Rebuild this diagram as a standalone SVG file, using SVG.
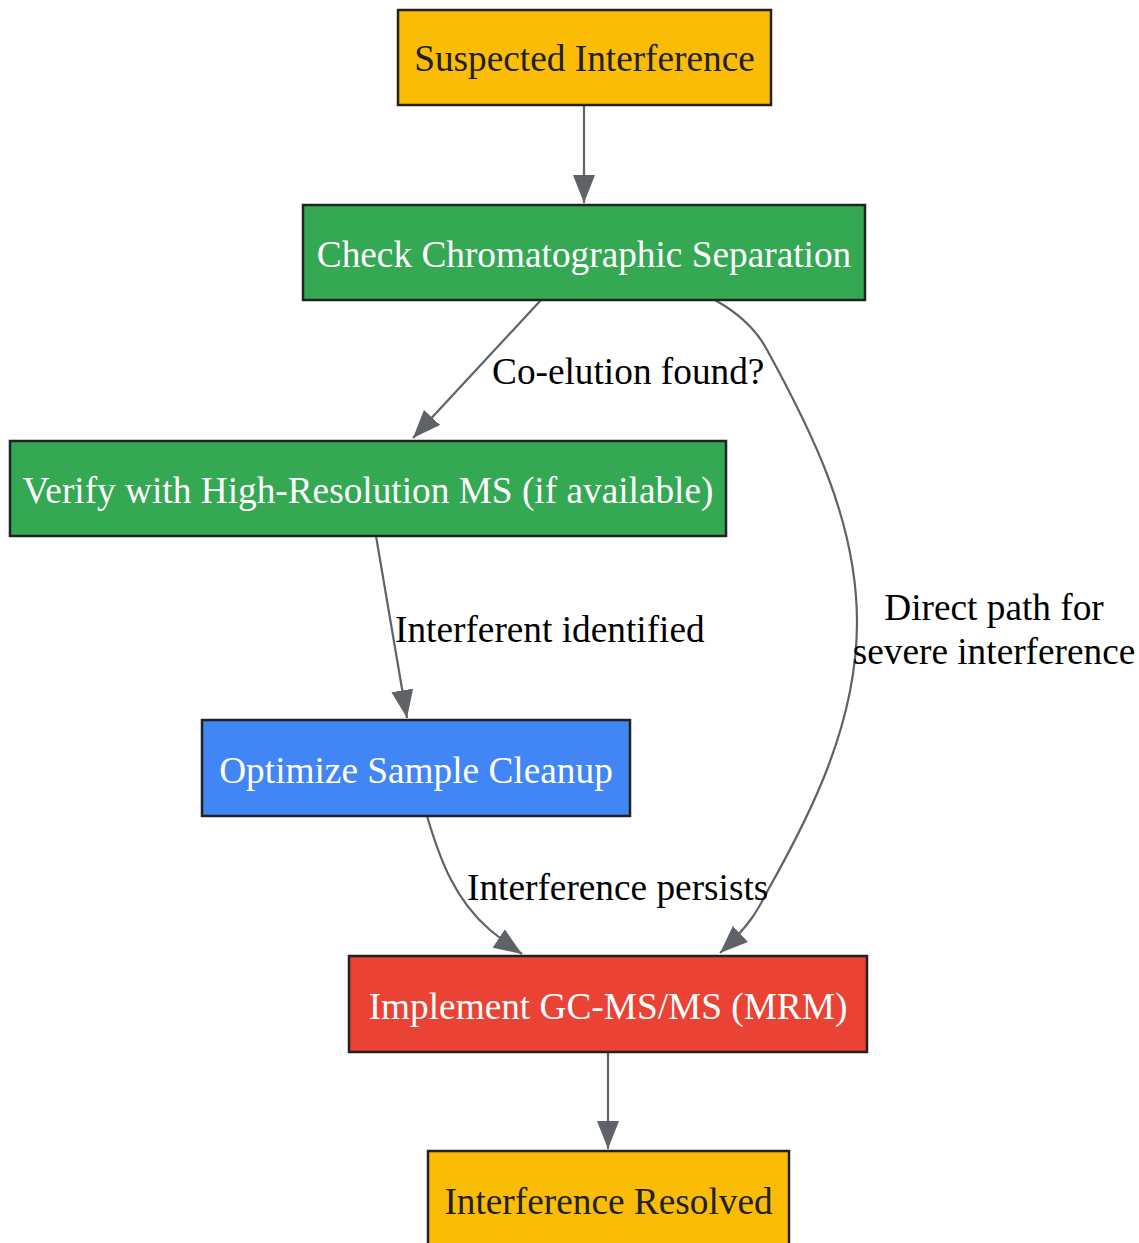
<svg xmlns="http://www.w3.org/2000/svg" width="1139" height="1243" viewBox="0 0 1139 1243">
<style>
.n{stroke:#222;stroke-width:2.5}
.t{font-family:"Liberation Serif","Times New Roman",serif;font-size:37.3px;text-anchor:middle}
.w{fill:#fff}
.d{fill:#202124}
.e{fill:none;stroke:#5F6368;stroke-width:2.2}
.l{font-family:"Liberation Serif","Times New Roman",serif;font-size:37.3px;fill:#000}
</style>
<defs>
<marker id="a" viewBox="0 0 28 22" refX="28" refY="11" markerWidth="28" markerHeight="22" markerUnits="userSpaceOnUse" orient="auto">
<path d="M0,0 L28,11 L0,22 z" fill="#5F6368"/>
</marker>
</defs>
<rect width="1139" height="1243" fill="#fff"/>
<g id="edges">
<path class="e" d="M584,105 L584,203" marker-end="url(#a)"/>
<path class="e" d="M541,300 L413,438" marker-end="url(#a)"/>
<text class="l" x="492" y="384">Co-elution found?</text>
<path class="e" d="M715,300 C738,313 755,328 766,348 C810,428 857,520 857,622 C857,722 812,812 768,890 C758,910 750,925 720,953" marker-end="url(#a)"/>
<text class="l" x="994" y="620" text-anchor="middle">Direct path for</text>
<text class="l" x="994" y="664" text-anchor="middle">severe interference</text>
<path class="e" d="M376,536 L407,718" marker-end="url(#a)"/>
<text class="l" x="395" y="642">Interferent identified</text>
<path class="e" d="M427,816 C440,860 455,900 490,930 C500,938 510,946 522,954" marker-end="url(#a)"/>
<text class="l" x="467" y="900">Interference persists</text>
<path class="e" d="M608,1052 L608,1149" marker-end="url(#a)"/>
</g>
<g id="n1"><rect class="n" x="398" y="10" width="373" height="95" fill="#FBBC05"/><text class="t d" x="584.5" y="71">Suspected Interference</text></g>
<g id="n2"><rect class="n" x="303" y="205" width="562" height="95" fill="#34A853"/><text class="t w" x="584" y="267">Check Chromatographic Separation</text></g>
<g id="n3"><rect class="n" x="10" y="441" width="716" height="95" fill="#34A853"/><text class="t w" x="368" y="503">Verify with High-Resolution MS (if available)</text></g>
<g id="n4"><rect class="n" x="202" y="720" width="428" height="96" fill="#4285F4"/><text class="t w" x="416" y="783">Optimize Sample Cleanup</text></g>
<g id="n5"><rect class="n" x="349" y="956" width="518" height="96" fill="#EA4335"/><text class="t w" x="608" y="1019">Implement GC-MS/MS (MRM)</text></g>
<g id="n6"><rect class="n" x="428" y="1151" width="361" height="96" fill="#FBBC05"/><text class="t d" x="608.5" y="1214">Interference Resolved</text></g>
</svg>
